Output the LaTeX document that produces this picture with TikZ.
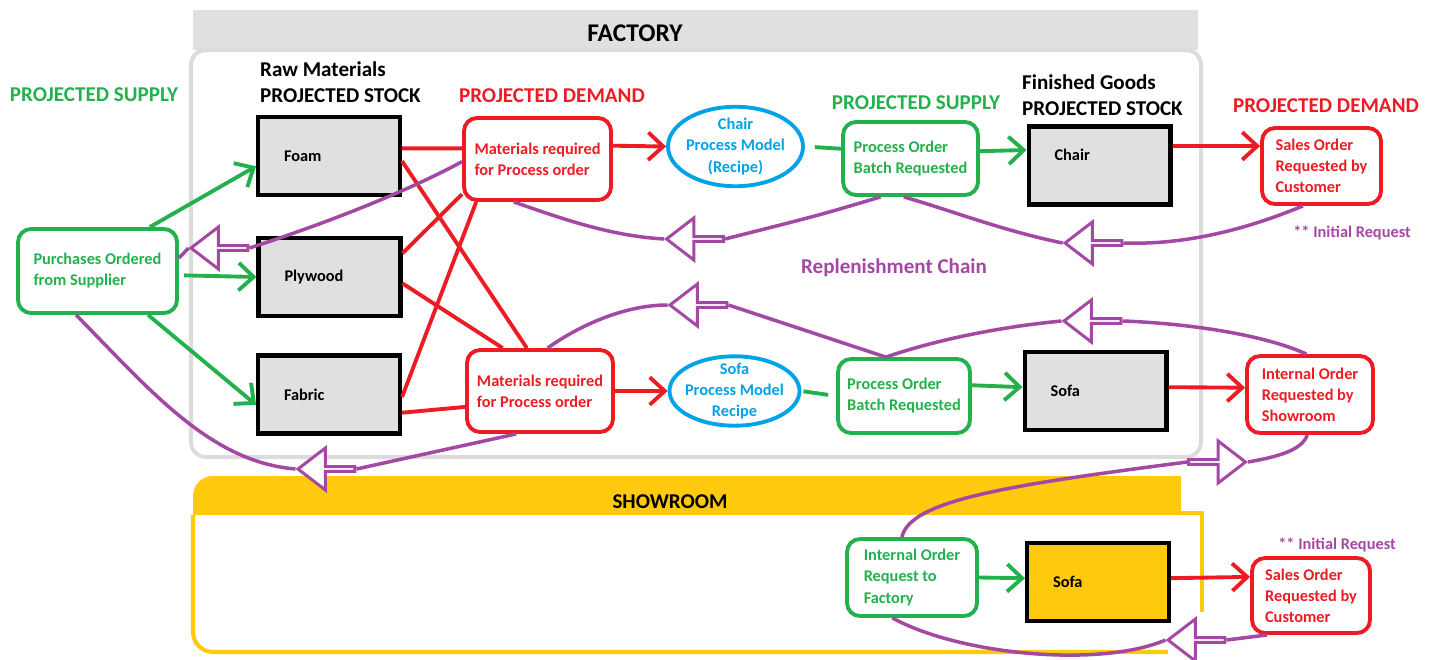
\documentclass[tikz,border=0pt]{standalone}
\usepackage{fontspec}
\setmainfont{Carlito}
\usetikzlibrary{arrows.meta,shapes.geometric,shapes.arrows}
\begin{document}
\begin{tikzpicture}[x=0.02cm,y=-0.02cm,font=\bfseries\fontsize{9.3}{12}\selectfont,>={Straight Barb[length=0.3cm,width=0.55cm]}]
  \definecolor{grn}{HTML}{22B14C}
  \definecolor{rd}{HTML}{ED1C24}
  \definecolor{blu}{HTML}{00A2E8}
  \definecolor{prp}{HTML}{A349A4}
  \definecolor{gold}{HTML}{FFC90E}
  \definecolor{boxgrey}{HTML}{E0E0E0}
  \definecolor{framegrey}{HTML}{DCDCDC}
  \tikzset{
    stock/.style={draw=black,line width=2.3pt,fill=boxgrey,minimum width=2.84cm,minimum height=1.56cm,text width=1.8cm,align=left},
    demand/.style={draw=rd,text=rd,line width=2.2pt,rounded corners=0.26cm,align=left},
    supply/.style={draw=grn,text=grn,line width=2.2pt,rounded corners=0.26cm,align=left},
    model/.style={ellipse,draw=blu,text=blu,line width=2.2pt,align=center},
    heading/.style={font=\bfseries\fontsize{12}{14.8}\selectfont,align=left},
    back/.style={single arrow,draw=prp,fill=white,line width=1.7pt,inner sep=0pt,minimum height=1.14cm,minimum width=0.84cm,single arrow head extend=0.24cm,single arrow tip angle=75,shape border rotate=180},
    fwd/.style={back,shape border rotate=0},
    chain/.style={draw=prp,line width=2pt},
    link/.style={line width=2.2pt}
  }
  \useasboundingbox (0,0) rectangle (1435,659);
  % factory and showroom frames
  \fill[boxgrey] (193,10) rectangle (1198,50);
  \draw[framegrey,line width=2.3pt,rounded corners=0.3cm] (191,50) rectangle (1201,457);
  \fill[gold] (193,515) [rounded corners=0.4cm] -- (193,476) [sharp corners] -- (1181,476) -- (1181,515) -- cycle;
  \draw[gold,line width=2.3pt] (1181,513) -- (1202,513) -- (1202,612);
  \draw[gold,line width=2.3pt] (193,515) [rounded corners=0.4cm] -- (193,652) [sharp corners] -- (1168,652);
  \node[heading,font=\bfseries\fontsize{14.5}{16}\selectfont] (factorytitle) at (635,33) {FACTORY};
  \node[heading] (showtitle) at (670,502) {SHOWROOM};
  % headings
  \node[heading,text=grn] (supplyleft) at (94,95) {PROJECTED SUPPLY};
  \node[heading,anchor=west] (rawstock) at (254,82) {Raw Materials\\PROJECTED STOCK};
  \node[heading,text=rd] (demandleft) at (552,96) {PROJECTED DEMAND};
  \node[heading,text=grn] (supplyright) at (916,103) {PROJECTED SUPPLY};
  \node[heading,anchor=west] (finstock) at (1016,95) {Finished Goods\\PROJECTED STOCK};
  \node[heading,text=rd] (demandright) at (1326,106) {PROJECTED DEMAND};
  \node[heading,text=prp] (chainlabel) at (894,268) {Replenishment Chain};
  \node[text=prp] (initialtop) at (1352,233) {** Initial Request};
  \node[text=prp] (initialbot) at (1337,545) {** Initial Request};
  % nodes
  \node[supply,minimum width=3.18cm,minimum height=1.68cm] (purchases) at (97.5,271) {Purchases Ordered\\from Supplier};
  \node[stock] (foam) at (329,156) {Foam};
  \node[stock] (plywood) at (329.5,277) {Plywood};
  \node[stock] (fabric) at (329,394.5) {Fabric};
  \node[demand,minimum width=2.94cm,minimum height=1.64cm] (matchair) at (537.5,159) {Materials required\\for Process order};
  \node[model,inner xsep=-1.3pt,inner ysep=0pt,minimum width=2.7cm] (chairmodel) at (735.5,146.5) {Chair\\Process Model\\(Recipe)};
  \node[supply,minimum width=2.7cm,minimum height=1.46cm] (procchair) at (910.5,158.5) {Process Order\\Batch Requested};
  \node[stock] (chair) at (1099.5,165.5) {Chair\\\mbox{}};
  \node[demand,minimum width=2.38cm,minimum height=1.52cm] (salestop) at (1321.5,166) {Sales Order\\Requested by\\Customer};
  \node[demand,minimum width=2.92cm,minimum height=1.64cm] (matsofa) at (540,391) {Materials required\\for Process order};
  \node[model,inner sep=-2pt] (sofamodel) at (734.5,391) {Sofa\\Process Model\\Recipe};
  \node[supply,minimum width=2.64cm,minimum height=1.48cm] (procsofa) at (904,396) {Process Order\\Batch Requested};
  \node[stock] (sofa) at (1095.5,391) {Sofa};
  \node[demand,minimum width=2.52cm,minimum height=1.54cm] (intshow) at (1310,394.5) {Internal Order\\Requested by\\Showroom};
  \node[supply,minimum width=2.6cm,minimum height=1.54cm] (intreq) at (912,577.5) {Internal Order\\Request to\\Factory};
  \node[stock,fill=gold] (sofashow) at (1098,582) {Sofa};
  \node[demand,minimum width=2.36cm,minimum height=1.5cm] (salesbot) at (1311,595.5) {Sales Order\\Requested by\\Customer};
  % return arrows
  \node[back] (ret1) at (221,248) {};
  \node[back] (ret2) at (696.5,239) {};
  \node[back] (ret3) at (1095,243) {};
  \node[back] (ret4) at (700,305) {};
  \node[back] (ret5) at (1094,321) {};
  \node[back] (ret6) at (328,469) {};
  \node[fwd] (ret7) at (1215.5,462) {};
  \node[back] (ret8) at (1198,640) {};
  % supply and demand links
  \draw[grn,link,->] (purchases.40) -- (foam.188);
  \draw[grn,link,->,shorten <=0.1cm] (purchases.-3) -- (plywood.west);
  \draw[grn,link,->] (purchases.-41) -- (fabric.188);
  \draw[rd,link] (foam.6) -- (matchair.172);
  \draw[rd,link] (foam.-4) -- (matsofa.107);
  \draw[rd,link] (plywood.18) -- (matchair.205);
  \draw[rd,link] (plywood.-5) -- (matsofa.131);
  \draw[rd,link] (fabric.-2) -- (matchair.215);
  \draw[rd,link] (fabric.-14) -- (matsofa.192);
  \draw[rd,link,->] (matchair.10) -- (chairmodel.west);
  \draw[grn,link,shorten <=0.2cm] (chairmodel.east) -- (procchair.172);
  \draw[grn,link,->] (procchair.6) -- (chair.168);
  \draw[rd,link,->] (chair.15) -- (salestop.162);
  \draw[rd,link,->] (matsofa.east) -- (sofamodel.west);
  \draw[grn,link,shorten <=0.04cm,shorten >=0.16cm] (sofamodel.east) -- (procsofa.west);
  \draw[grn,link,->] (procsofa.9) -- (sofa.177);
  \draw[rd,link,->] (sofa.3) -- (intshow.174);
  \draw[grn,link,->] (intreq.east) -- (sofashow.177);
  \draw[rd,link,->] (sofashow.3) -- (salesbot.163);
  % replenishment chain
  \draw[chain] (salestop.-115) .. controls (1240,232) and (1180,245) .. (ret3.tail);
  \draw[chain] (ret3.tip) .. controls (1000,230) and (950,210) .. (procchair.-100);
  \draw[chain] (procchair.-128) .. controls (820,215) .. (ret2.tail);
  \draw[chain] (ret2.tip) .. controls (610,236) and (560,218) .. (matchair.-119);
  \draw[chain] (matchair.182) .. controls (410,190) and (330,222) .. (ret1.tail);
  \draw[chain] (ret1.tip) -- (purchases.9);
  \draw[chain] (intshow.95) .. controls (1260,333) and (1180,323) .. (ret5.tail);
  \draw[chain] (ret5.tip) .. controls (990,328) and (930,342) .. (procsofa.115);
  \draw[chain] (procsofa.115) -- (ret4.tail);
  \draw[chain] (ret4.tip) .. controls (625,305) and (580,325) .. (matsofa.80);
  \draw[chain] (matsofa.-119) -- (ret6.tail);
  \draw[chain] (ret6.tip) .. controls (210,462) and (150,390) .. (purchases.-116);
  \draw[chain] (intshow.-94) .. controls (1302,452) and (1270,458) .. (ret7.tip);
  \draw[chain] (ret7.tail) .. controls (1010,485) and (910,500) .. (intreq.104);
  \draw[chain] (salesbot.-138) -- (ret8.tail);
  \draw[chain] (ret8.tip) .. controls (1100,668) and (960,655) .. (intreq.-116);
\end{tikzpicture}
\end{document}
